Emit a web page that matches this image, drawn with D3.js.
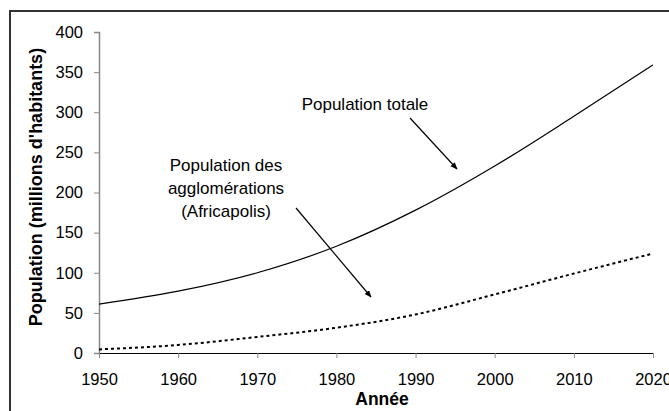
<!DOCTYPE html>
<html>
<head>
<meta charset="utf-8">
<script src="https://cdn.jsdelivr.net/npm/d3@7"></script>
<style>
  body { margin: 0; background: #fff; }
  svg { font-family: "Liberation Sans", Arial, sans-serif; }
  .tick text { font-size: 16.5px; fill: #000; }
</style>
</head>
<body>
<svg id="chart"></svg>
<script>
// values (millions)
const years = [1950, 1960, 1970, 1980, 1990, 2000, 2010, 2020];
const popTotale = [61, 77, 100, 133, 178, 233, 295, 359];
const popAgglo = [4.5, 10, 20, 31.5, 48, 73, 99, 124];
const yTicks = [0, 50, 100, 150, 200, 250, 300, 350, 400];

const width = 669, height = 411;
const margin = { top: 32, right: 16, bottom: 58, left: 99 };

const svg = d3.select("#chart")
  .attr("width", width)
  .attr("height", height);

// outer frame (cut off on right/bottom like the original)
svg.append("rect")
  .attr("x", 10).attr("y", 11)
  .attr("width", 680).attr("height", 420)
  .attr("fill", "none")
  .attr("stroke", "#333")
  .attr("stroke-width", 2);

const x = d3.scaleLinear().domain([1950, 2020]).range([margin.left, width - margin.right]);
const y = d3.scaleLinear().domain([0, 400]).range([height - margin.bottom, margin.top]);

// y axis (grey)
const yAxis = svg.append("g")
  .attr("transform", `translate(${margin.left},0)`)
  .call(d3.axisLeft(y).tickValues(yTicks).tickSize(5).tickPadding(11));
yAxis.select(".domain").attr("stroke", "#888").attr("stroke-width", 1.5);
yAxis.selectAll(".tick line").attr("stroke", "#888");

// x axis (black)
const xAxis = svg.append("g")
  .attr("transform", `translate(0,${y(0)})`)
  .call(d3.axisBottom(x).tickValues(years).tickFormat(d3.format("d")).tickSize(5).tickPadding(15));
xAxis.select(".domain").attr("stroke", "#000");
xAxis.selectAll(".tick line").attr("stroke", "#888");

// lines
const line = d3.line()
  .x((d, i) => x(years[i]))
  .y(d => y(d))
  .curve(d3.curveMonotoneX);

svg.append("path")
  .datum(popTotale)
  .attr("d", line)
  .attr("fill", "none")
  .attr("stroke", "#000")
  .attr("stroke-width", 1.2);

svg.append("path")
  .datum(popAgglo)
  .attr("d", line)
  .attr("fill", "none")
  .attr("stroke", "#000")
  .attr("stroke-width", 2)
  .attr("stroke-dasharray", "3,3");

// axis titles
svg.append("text")
  .attr("transform", `translate(42,187) rotate(-90)`)
  .attr("text-anchor", "middle")
  .attr("font-size", 18)
  .attr("font-weight", "bold")
  .text("Population (millions d'habitants)");

svg.append("text")
  .attr("x", 382)
  .attr("y", 405)
  .attr("text-anchor", "middle")
  .attr("font-size", 17.5)
  .attr("font-weight", "bold")
  .text("Année");

// annotations with arrows
const defs = svg.append("defs");
defs.append("marker")
  .attr("id", "arrow")
  .attr("viewBox", "0 0 10 10")
  .attr("refX", 9).attr("refY", 5)
  .attr("markerWidth", 6).attr("markerHeight", 6)
  .attr("orient", "auto")
  .append("path")
  .attr("d", "M0,1 L10,5 L0,9 z")
  .attr("fill", "#000");

svg.append("text")
  .attr("x", 365).attr("y", 110)
  .attr("text-anchor", "middle")
  .attr("font-size", 17)
  .text("Population totale");

svg.append("line")
  .attr("x1", 410).attr("y1", 118)
  .attr("x2", 457).attr("y2", 169)
  .attr("stroke", "#000").attr("stroke-width", 1.2)
  .attr("marker-end", "url(#arrow)");

const label = ["Population des", "agglomérations", "(Africapolis)"];
svg.append("text")
  .attr("x", 226).attr("y", 171)
  .attr("text-anchor", "middle")
  .attr("font-size", 17)
  .selectAll("tspan")
  .data(label)
  .join("tspan")
  .attr("x", 226)
  .attr("dy", (d, i) => i === 0 ? 0 : 23)
  .text(d => d);

svg.append("line")
  .attr("x1", 296).attr("y1", 208)
  .attr("x2", 371).attr("y2", 297)
  .attr("stroke", "#000").attr("stroke-width", 1.2)
  .attr("marker-end", "url(#arrow)");
</script>
</body>
</html>
